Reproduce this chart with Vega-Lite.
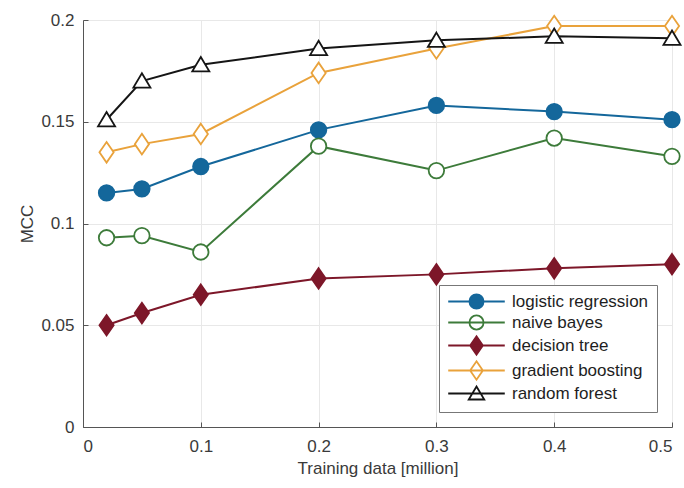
{
  "$schema": "https://vega.github.io/schema/vega-lite/v6.json",
  "width": 589,
  "height": 407,
  "autosize": {"type": "none"},
  "padding": {"left": 83, "top": 20, "right": 12, "bottom": 61},
  "background": "white",
  "config": {
    "font": "Liberation Sans",
    "view": {"stroke": "#ececec", "strokeWidth": 1},
    "axis": {
      "labelFont": "Liberation Sans",
      "titleFont": "Liberation Sans",
      "labelFontSize": 17,
      "titleFontSize": 17,
      "labelColor": "#3a3a3a",
      "titleColor": "#3a3a3a",
      "titleFontWeight": "normal",
      "domainColor": "#555555",
      "gridColor": "#e8e8e8",
      "tickColor": "#555555",
      "tickSize": -5
    },
    "legend": {
      "labelFont": "Liberation Sans",
      "labelFontSize": 17,
      "labelColor": "#1e1e1e"
    }
  },
  "data": {
    "values": [
      {"model": "logistic regression", "x": 0.02, "mcc": 0.115},
      {"model": "logistic regression", "x": 0.05, "mcc": 0.117},
      {"model": "logistic regression", "x": 0.1, "mcc": 0.128},
      {"model": "logistic regression", "x": 0.2, "mcc": 0.146},
      {"model": "logistic regression", "x": 0.3, "mcc": 0.158},
      {"model": "logistic regression", "x": 0.4, "mcc": 0.155},
      {"model": "logistic regression", "x": 0.5, "mcc": 0.151},
      {"model": "naive bayes", "x": 0.02, "mcc": 0.093},
      {"model": "naive bayes", "x": 0.05, "mcc": 0.094},
      {"model": "naive bayes", "x": 0.1, "mcc": 0.086},
      {"model": "naive bayes", "x": 0.2, "mcc": 0.138},
      {"model": "naive bayes", "x": 0.3, "mcc": 0.126},
      {"model": "naive bayes", "x": 0.4, "mcc": 0.142},
      {"model": "naive bayes", "x": 0.5, "mcc": 0.133},
      {"model": "decision tree", "x": 0.02, "mcc": 0.050},
      {"model": "decision tree", "x": 0.05, "mcc": 0.056},
      {"model": "decision tree", "x": 0.1, "mcc": 0.065},
      {"model": "decision tree", "x": 0.2, "mcc": 0.073},
      {"model": "decision tree", "x": 0.3, "mcc": 0.075},
      {"model": "decision tree", "x": 0.4, "mcc": 0.078},
      {"model": "decision tree", "x": 0.5, "mcc": 0.080},
      {"model": "gradient boosting", "x": 0.02, "mcc": 0.135},
      {"model": "gradient boosting", "x": 0.05, "mcc": 0.139},
      {"model": "gradient boosting", "x": 0.1, "mcc": 0.144},
      {"model": "gradient boosting", "x": 0.2, "mcc": 0.174},
      {"model": "gradient boosting", "x": 0.3, "mcc": 0.186},
      {"model": "gradient boosting", "x": 0.4, "mcc": 0.197},
      {"model": "gradient boosting", "x": 0.5, "mcc": 0.197},
      {"model": "random forest", "x": 0.02, "mcc": 0.151},
      {"model": "random forest", "x": 0.05, "mcc": 0.170},
      {"model": "random forest", "x": 0.1, "mcc": 0.178},
      {"model": "random forest", "x": 0.2, "mcc": 0.186},
      {"model": "random forest", "x": 0.3, "mcc": 0.190},
      {"model": "random forest", "x": 0.4, "mcc": 0.192},
      {"model": "random forest", "x": 0.5, "mcc": 0.191}
    ]
  },
  "encoding": {
    "x": {
      "field": "x", "type": "quantitative",
      "scale": {"domain": [0, 0.5], "nice": false},
      "axis": {"title": "Training data [million]", "values": [0, 0.1, 0.2, 0.3, 0.4, 0.5], "format": "~g", "titlePadding": 6, "labelPadding": 16}
    },
    "y": {
      "field": "mcc", "type": "quantitative",
      "scale": {"domain": [0, 0.2], "nice": false},
      "axis": {"title": "MCC", "values": [0, 0.05, 0.1, 0.15, 0.2], "format": "~g", "titlePadding": 4, "labelPadding": 14}
    },
    "stroke": {
      "field": "model", "type": "nominal",
      "scale": {
        "domain": ["logistic regression", "naive bayes", "decision tree", "gradient boosting", "random forest"],
        "range": ["#14679b", "#3d7b3a", "#7d1729", "#e9a23b", "#151515"]
      },
      "legend": {
        "title": null,
        "orient": "bottom-right",
        "offset": 15,
        "padding": 8,
        "strokeColor": "#777777",
        "fillColor": "white",
        "symbolSize": 200,
        "symbolOffset": 21,
        "labelOffset": 27,
        "rowPadding": -2,
        "symbolStrokeWidth": 1.8
      }
    },
    "fill": {
      "field": "model", "type": "nominal",
      "scale": {
        "domain": ["logistic regression", "naive bayes", "decision tree", "gradient boosting", "random forest"],
        "range": ["#14679b", "white", "#7d1729", "white", "white"]
      }
    }
  },
  "layer": [
    {
      "mark": {"type": "line", "strokeWidth": 2},
      "encoding": {"fill": {"value": null}}
    },
    {
      "transform": [{"filter": "datum.model === 'logistic regression' || datum.model === 'naive bayes'"}],
      "mark": {"type": "point", "shape": "circle", "strokeWidth": 1.8, "size": 240, "opacity": 1}
    },
    {
      "transform": [{"filter": "datum.model === 'decision tree' || datum.model === 'gradient boosting'"}],
      "mark": {"type": "point", "shape": "M0,-1.3L0.9,0L0,1.3L-0.9,0Z", "strokeWidth": 1.8, "size": 250, "opacity": 1}
    },
    {
      "transform": [{"filter": "datum.model === 'random forest'"}],
      "mark": {"type": "point", "shape": "M0,-1L1.1,0.85L-1.1,0.85Z", "strokeWidth": 1.8, "size": 240, "opacity": 1}
    },
    {
      "transform": [{"filter": "datum.x < 0"}],
      "mark": {"type": "point", "strokeWidth": 1.8, "size": 200, "opacity": 1},
      "encoding": {
        "shape": {
          "field": "model", "type": "nominal",
          "scale": {
            "domain": ["logistic regression", "naive bayes", "decision tree", "gradient boosting", "random forest"],
            "range": [
              "M-4,0H4M1,0A1,1 0 1,1 -1,0A1,1 0 1,1 1,0Z",
              "M-4,0H4M1,0A1,1 0 1,1 -1,0A1,1 0 1,1 1,0Z",
              "M-4,0H4M0,-1.3L0.9,0L0,1.3L-0.9,0Z",
              "M-4,0H4M0,-1.3L0.9,0L0,1.3L-0.9,0Z",
              "M-4,0H4M0,-1L1.1,0.85L-1.1,0.85Z"
            ]
          }
        }
      }
    }
  ]
}
